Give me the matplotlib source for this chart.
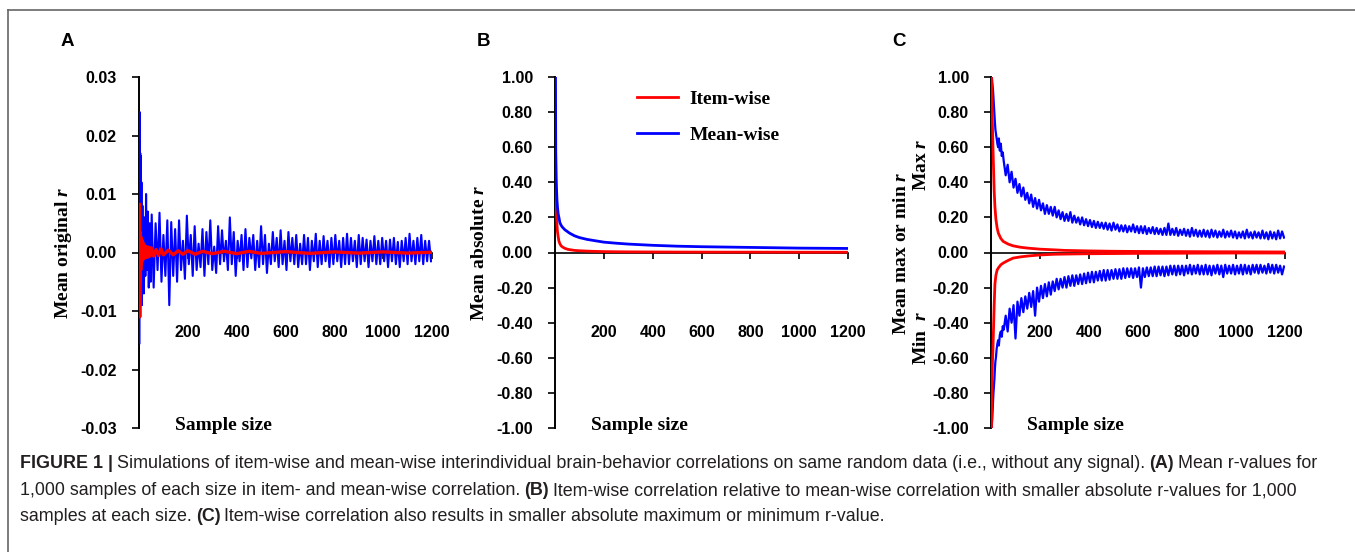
import matplotlib
matplotlib.use("Agg")
import matplotlib.pyplot as plt
from matplotlib.lines import Line2D
from matplotlib.transforms import IdentityTransform

W, H = 1355, 552
RED = "#ff0000"
BLUE = "#0000ff"
SERIF = "Liberation Serif"
NARROW = ["Liberation Sans Narrow", "Liberation Sans", "DejaVu Sans"]

# ---- data -------------------------------------------------------------
x_ticks = [200, 400, 600, 800, 1000, 1200]

# sample sizes used for the noisy series
n_early = [2, 3, 4, 5, 6, 7, 8, 10, 12, 14, 16, 18, 20, 23, 26, 29, 32, 36, 40, 44, 48]
n_grid = n_early + list(range(52, 1201, 8))

# panel A: mean original r (values in units of 0.001)
a_mean_wise_milli = (
    [-15.5, 24, -11, 17, -8, 16.5, -5, 12, -9, 8, -6, 5, -7, 6, -4, 10, -3, 7, -6, 5, -5]
    + [6.5, -6, 5, -3, 6.8, -5, 3, -4, 5.5, -9, 5.2, -4, 4]
    + [-5, 5.5, -3, 2, -4.5, 6.3, -2, 3, -4, 4.5, -3, 1.5, -2.5]
    + [4, -4, 3.5, -2, 5.5, -3, 1, -3.5, 4.5, -2, 3.8, -1.5, 2]
    + [-3, 6.0, -2, 3.5, -4, 2, -1.5, 3, -3, 4, -2.5, 2.5, -1]
    + [3, -3, 2, -2.5, 4.5, -2, 3, -3.5, 1.5, -2, 3.5, -1.5, 2.5]
    + [-2.5, 3.8, -2, 2, -3, 3.5, -1.5, 2.5, -2, 3, -2.5, 1.5, -2]
    + [3, -2, 2.5, -3, 2, -1.5, 3.2, -2.5, 2, -2, 2.8, -1.5, 2]
    + [-2.5, 2.5, -2, 3, -1.5, 2, -2.5, 2.5, -2, 3.2, -2, 2.5, -1.5]
    + [2, -2.5, 3, -2, 2.5, -1.5, 2.2, -2.5, 2, -1.5, 2.8, -2, 2]
    + [-2, 2.5, -1.5, 2, -2.5, 2.2, -1.5, 2.5, -2, 1.8, -2.5, 2, -1.5]
    + [2.5, -2, 3.2, -1.5, 2, -2, 2.5, -1.5, 3, -2, 2, -1.5, 2]
    + [-1.5]
)
n_a_item = [2, 3, 4, 5, 6, 7, 8, 9, 10, 12, 14, 16, 18, 20, 23, 26, 30, 35, 40, 45,
            50, 60, 70, 80, 90, 100, 120, 140, 160, 180, 200, 230, 260, 300, 350, 400,
            450, 500, 600, 700, 800, 900, 1000, 1100, 1200]
a_item_wise_milli = [8.2, -11, 3.5, -5, 2.8, -3, 2.5, -2, 1.8, -1.5,
                     2.0, -1.2, 1.5, -1.0, 1.2, -0.9, 1.0, -0.8, 0.9, -0.6,
                     0.8, -0.6, 0.5, -0.5, 0.6, -0.4, 0.4, -0.4, 0.3, -0.3,
                     0.3, -0.3, 0.2, -0.2, 0.2, -0.2, 0.2, -0.15, 0.15, -0.15,
                     0.1, -0.1, 0.1, -0.1, 0.05]

# panel B: mean absolute r
n_b = [2, 3, 4, 5, 6, 8, 10, 13, 16, 20, 25, 30, 40, 50, 60, 80, 100, 130, 160, 200,
       250, 300, 400, 500, 600, 700, 800, 900, 1000, 1100, 1200]
b_mean_wise = [1.0, 0.58, 0.5, 0.42, 0.37, 0.3, 0.26, 0.22, 0.2, 0.17, 0.155, 0.145,
               0.13, 0.12, 0.11, 0.095, 0.085, 0.075, 0.068, 0.059, 0.053, 0.048,
               0.041, 0.036, 0.033, 0.031, 0.029, 0.027, 0.025, 0.024, 0.023]
b_item_wise = [0.5, 0.38, 0.31, 0.26, 0.22, 0.16, 0.12, 0.09, 0.065, 0.05, 0.038, 0.032,
               0.024, 0.019, 0.016, 0.012, 0.01, 0.008, 0.0065, 0.005, 0.0042, 0.0036,
               0.003, 0.0025, 0.0022, 0.002, 0.002, 0.0018, 0.0016, 0.0015, 0.0015]

# panel C: mean max / min r
c_max_mean_wise = (
    [1.0, 1.0, 0.99, 0.97, 0.96, 0.94, 0.93, 0.88, 0.83, 0.78, 0.74, 0.7, 0.68, 0.65,
     0.62, 0.6, 0.65, 0.58, 0.62, 0.55, 0.57]
    + [0.52, 0.44, 0.5, 0.4, 0.46, 0.37, 0.42, 0.34, 0.39, 0.32, 0.37, 0.3, 0.34]
    + [0.28, 0.33, 0.26, 0.31, 0.25, 0.3, 0.24, 0.28, 0.22, 0.27, 0.22, 0.26, 0.21]
    + [0.26, 0.2, 0.24, 0.19, 0.23, 0.18, 0.22, 0.18, 0.23, 0.17, 0.21, 0.17, 0.2]
    + [0.16, 0.2, 0.155, 0.19, 0.15, 0.185, 0.145, 0.18, 0.14, 0.175, 0.14, 0.17, 0.135]
    + [0.17, 0.13, 0.165, 0.125, 0.17, 0.13, 0.16, 0.12, 0.155, 0.12, 0.155, 0.115, 0.15]
    + [0.12, 0.16, 0.115, 0.15, 0.11, 0.15, 0.11, 0.15, 0.105, 0.14, 0.11, 0.145, 0.105]
    + [0.14, 0.105, 0.135, 0.1, 0.14, 0.1, 0.165, 0.1, 0.135, 0.1, 0.14, 0.095, 0.13]
    + [0.1, 0.135, 0.095, 0.13, 0.09, 0.14, 0.095, 0.13, 0.09, 0.125, 0.09, 0.13, 0.09]
    + [0.125, 0.085, 0.13, 0.09, 0.125, 0.085, 0.12, 0.09, 0.13, 0.085, 0.12, 0.09, 0.125]
    + [0.085, 0.12, 0.08, 0.115, 0.085, 0.12, 0.08, 0.13, 0.085, 0.115, 0.08, 0.12, 0.085]
    + [0.115, 0.08, 0.125, 0.08, 0.115, 0.075, 0.12, 0.08, 0.115, 0.075, 0.125, 0.08, 0.12]
    + [0.085]
)
c_min_mean_wise = (
    [-1.0, -0.99, -0.97, -0.95, -0.92, -0.88, -0.85, -0.8, -0.76, -0.72, -0.66, -0.62,
     -0.6, -0.55, -0.52, -0.5, -0.53, -0.47, -0.45, -0.48, -0.42]
    + [-0.44, -0.36, -0.45, -0.32, -0.4, -0.3, -0.49, -0.28, -0.36, -0.26, -0.34, -0.25, -0.32]
    + [-0.23, -0.31, -0.22, -0.36, -0.2, -0.28, -0.19, -0.26, -0.18, -0.25, -0.17, -0.24, -0.165]
    + [-0.22, -0.15, -0.21, -0.15, -0.2, -0.14, -0.2, -0.135, -0.19, -0.13, -0.19, -0.13, -0.18]
    + [-0.125, -0.18, -0.12, -0.175, -0.115, -0.17, -0.11, -0.17, -0.11, -0.16, -0.105, -0.16, -0.1]
    + [-0.16, -0.1, -0.155, -0.1, -0.15, -0.095, -0.15, -0.095, -0.15, -0.09, -0.145, -0.09, -0.14]
    + [-0.09, -0.145, -0.09, -0.14, -0.085, -0.2, -0.09, -0.14, -0.085, -0.135, -0.085, -0.135, -0.08]
    + [-0.135, -0.08, -0.13, -0.08, -0.135, -0.08, -0.13, -0.075, -0.125, -0.075, -0.13, -0.075, -0.125]
    + [-0.075, -0.13, -0.075, -0.12, -0.07, -0.125, -0.075, -0.12, -0.07, -0.125, -0.075, -0.125, -0.07]
    + [-0.125, -0.075, -0.13, -0.075, -0.12, -0.07, -0.125, -0.075, -0.14, -0.07, -0.12, -0.075, -0.12]
    + [-0.07, -0.125, -0.075, -0.12, -0.07, -0.125, -0.07, -0.12, -0.075, -0.125, -0.07, -0.115, -0.07]
    + [-0.12, -0.07, -0.115, -0.075, -0.12, -0.065, -0.115, -0.07, -0.12, -0.07, -0.115, -0.075, -0.125]
    + [-0.08]
)
n_c_item = [2, 3, 4, 6, 8, 10, 13, 16, 20, 25, 30, 40, 50, 70, 90, 120, 150, 200, 260,
            300, 400, 500, 600, 800, 1000, 1200]
c_max_item_wise = [1.0, 0.92, 0.85, 0.72, 0.6, 0.5, 0.35, 0.26, 0.19, 0.14, 0.11, 0.08,
                   0.063, 0.048, 0.038, 0.03, 0.025, 0.019, 0.015, 0.012, 0.009, 0.007,
                   0.006, 0.005, 0.004, 0.003]
c_min_item_wise = [-1.0, -0.9, -0.75, -0.62, -0.55, -0.45, -0.3, -0.18, -0.13, -0.1,
                   -0.088, -0.07, -0.06, -0.045, -0.032, -0.025, -0.02, -0.014, -0.01,
                   -0.009, -0.007, -0.006, -0.005, -0.004, -0.003, -0.003]

a_mean_wise = [v / 1000 for v in a_mean_wise_milli]
a_item_wise = [v / 1000 for v in a_item_wise_milli]

# ---- figure -----------------------------------------------------------
plt.rcParams["font.family"] = ["Liberation Sans", "DejaVu Sans"]
plt.rcParams["font.weight"] = "bold"
plt.rcParams["axes.unicode_minus"] = False
plt.rcParams["mathtext.fontset"] = "custom"
plt.rcParams["mathtext.rm"] = "Liberation Serif:bold"
plt.rcParams["mathtext.it"] = "Liberation Serif:italic:bold"

fig = plt.figure(figsize=(W / 100, H / 100), dpi=100)


def px(x, y):
    return x / W, 1 - y / H


def make_axes(left, right, yticks, fmt):
    ax = fig.add_axes([left / W, 1 - 428 / H, (right - left) / W, 351 / H])
    ax.patch.set_visible(False)
    ax.spines[["top", "right"]].set_visible(False)
    ax.spines["bottom"].set_position(("data", 0))
    ax.spines["left"].set_linewidth(1.4)
    ax.spines["bottom"].set_linewidth(1.2)
    ax.set_xlim(0, 1200)
    ax.set_ylim(yticks[0], yticks[-1])
    ax.set_xticks(x_ticks)
    ax.set_yticks(yticks)
    ax.set_yticklabels([fmt % v for v in yticks])
    ax.tick_params(axis="x", direction="out", length=4, width=1.2, pad=48, labelsize=11.5)
    ax.tick_params(axis="y", direction="out", length=5, width=1.2, pad=11, labelsize=11.5)
    return ax


def serif_text(x, y, s, **kw):
    fig.text(*px(x, y), s, family=SERIF, fontweight="bold", fontsize=14, **kw)


# A
ax_a = make_axes(139, 432, [-0.03, -0.02, -0.01, 0.0, 0.01, 0.02, 0.03], "%.2f")
ax_a.plot(n_grid, a_mean_wise, color=BLUE, lw=1.5, zorder=3)
ax_a.plot(n_a_item, a_item_wise, color=RED, lw=2.4, zorder=4)

# B
r_ticks = [-1.0, -0.8, -0.6, -0.4, -0.2, 0.0, 0.2, 0.4, 0.6, 0.8, 1.0]
ax_b = make_axes(555, 848, r_ticks, "%.2f")
ax_b.plot(n_b, b_item_wise, color=RED, lw=2, zorder=3, label="Item-wise")
ax_b.plot(n_b, b_mean_wise, color=BLUE, lw=2, zorder=3, label="Mean-wise")
ax_b.legend(loc="upper left", bbox_to_anchor=px(637, 90), bbox_transform=fig.transFigure,
            frameon=False, borderpad=0, borderaxespad=0, handlelength=2.1,
            handletextpad=0.6, labelspacing=0.95,
            prop={"family": SERIF, "weight": "bold", "size": 14})

# C
ax_c = make_axes(991, 1285, r_ticks, "%.2f")
ax_c.plot(n_grid, c_max_mean_wise, color=BLUE, lw=1.6, zorder=3)
ax_c.plot(n_grid, c_min_mean_wise, color=BLUE, lw=1.6, zorder=3)
ax_c.plot(n_c_item, c_max_item_wise, color=RED, lw=2, zorder=4)
ax_c.plot(n_c_item, c_min_item_wise, color=RED, lw=2, zorder=4)

# panel letters and axis titles
for letter, x in [("A", 61), ("B", 477), ("C", 892)]:
    fig.text(*px(x, 41), letter, fontsize=13.5, fontweight="bold", va="center", ha="left")

for x in [175, 591, 1027]:
    serif_text(x, 426, "Sample size", ha="left", va="center")

serif_text(63, 253, "Mean original $r$", rotation=90, ha="center", va="center")
serif_text(479, 253, "Mean absolute $r$", rotation=90, ha="center", va="center")
serif_text(901, 253, "Mean max or min $r$", rotation=90, ha="center", va="center")
serif_text(922, 165, "Max $r$", rotation=90, ha="center", va="center")
serif_text(922, 338, "Min  $r$", rotation=90, ha="center", va="center")

# frame around the figure
fig.add_artist(Line2D([8 / W, 8 / W], [0, 1 - 10 / H], color="#666666", lw=1.2))
fig.add_artist(Line2D([8 / W, 1], [1 - 10 / H, 1 - 10 / H], color="#666666", lw=1.2))

# caption
caption_lines = [
    [("FIGURE 1 |", True),
     ("Simulations of item-wise and mean-wise interindividual brain-behavior correlations "
      "on same random data (i.e., without any signal).", False),
     ("(A)", True), ("Mean r-values for", False)],
    [("1,000 samples of each size in item- and mean-wise correlation.", False),
     ("(B)", True),
     ("Item-wise correlation relative to mean-wise correlation with smaller absolute "
      "r-values for 1,000", False)],
    [("samples at each size.", False), ("(C)", True),
     ("Item-wise correlation also results in smaller absolute maximum or minimum r-value.", False)],
]
caption_baselines = [468, 495, 521]

renderer = fig.canvas.get_renderer()
space = 4.0
for runs, base in zip(caption_lines, caption_baselines):
    x = 20.0
    for text, bold in runs:
        t = fig.text(x, H - base, text, transform=IdentityTransform(), family=NARROW,
                     fontsize=12.9, fontweight="bold" if bold else "normal",
                     color="#231f20", va="baseline", ha="left")
        x = t.get_window_extent(renderer).x1 + space

fig.savefig("out.png", dpi=100)
